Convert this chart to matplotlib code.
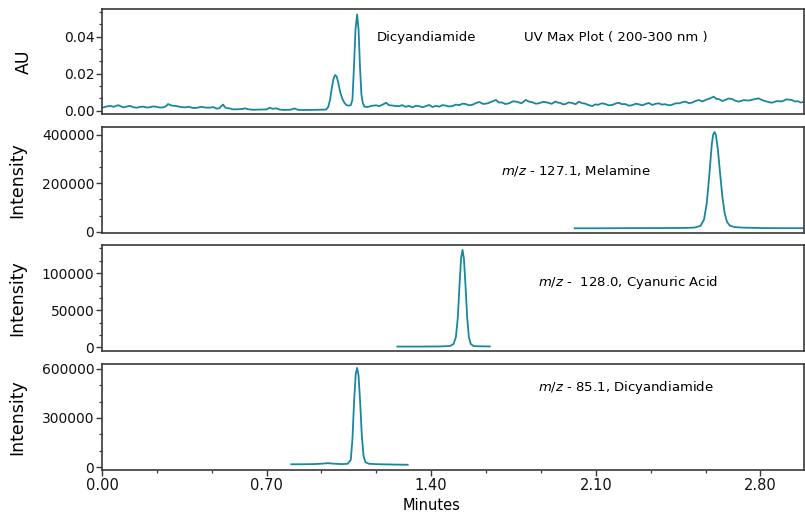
#!/usr/bin/env python3

import numpy as np
import matplotlib
matplotlib.use( 'Agg' )
import matplotlib.pyplot as plt
from matplotlib.ticker import AutoMinorLocator, FormatStrFormatter

plt.rcParams.update( { 'font.family' : 'DejaVu Sans',
                       'mathtext.fontset' : 'dejavusans' } )

teal = '#19879e'
edge = '#3a3a3a'

# UV max plot (200-300 nm), AU vs minutes
uv_t = [ 0.000, 0.017, 0.034, 0.050, 0.069, 0.080, 0.090, 0.105, 0.119, 0.133,
         0.147, 0.160, 0.175, 0.190, 0.204, 0.218, 0.232, 0.246, 0.260, 0.272,
         0.281, 0.295, 0.317, 0.335, 0.352, 0.370, 0.388, 0.405, 0.423, 0.440,
         0.458, 0.472, 0.487, 0.500, 0.508, 0.515, 0.522, 0.529, 0.545, 0.557,
         0.580, 0.600, 0.607, 0.620, 0.642, 0.670, 0.700, 0.713, 0.725, 0.741,
         0.755, 0.769, 0.800, 0.819, 0.830, 0.840, 0.880, 0.920, 0.953, 0.962,
         0.970, 0.977, 0.984, 0.991, 0.998, 1.005, 1.013, 1.022, 1.031, 1.040,
         1.050, 1.058, 1.065, 1.072, 1.078, 1.085, 1.091, 1.097, 1.103, 1.109,
         1.116, 1.130, 1.145, 1.165, 1.180, 1.195, 1.208, 1.220, 1.235, 1.250,
         1.264, 1.277, 1.290, 1.305, 1.321, 1.335, 1.350, 1.364, 1.378, 1.392,
         1.405, 1.420, 1.434, 1.447, 1.460, 1.475, 1.490, 1.505, 1.520, 1.533,
         1.547, 1.561, 1.575, 1.590, 1.604, 1.622, 1.640, 1.657, 1.675, 1.688,
         1.700, 1.715, 1.731, 1.748, 1.765, 1.784, 1.802, 1.816, 1.830, 1.844,
         1.858, 1.876, 1.895, 1.912, 1.929, 1.940, 1.950, 1.960, 1.971, 1.985,
         2.000, 2.014, 2.028, 2.041, 2.055, 2.070, 2.085, 2.097, 2.110, 2.125,
         2.141, 2.155, 2.170, 2.184, 2.198, 2.211, 2.225, 2.240, 2.255, 2.270,
         2.285, 2.298, 2.311, 2.325, 2.340, 2.354, 2.368, 2.381, 2.395, 2.410,
         2.424, 2.440, 2.455, 2.468, 2.481, 2.495, 2.510, 2.523, 2.537, 2.553,
         2.570, 2.585, 2.601, 2.613, 2.625, 2.638, 2.650, 2.665, 2.680, 2.693,
         2.707, 2.728, 2.750, 2.771, 2.792, 2.806, 2.820, 2.834, 2.848, 2.869,
         2.890, 2.911, 2.933, 2.947, 2.960, 2.972, 2.985 ]
uv_au = [ 0.0016, 0.0022, 0.0026, 0.0021, 0.0030, 0.0024, 0.0018, 0.0022, 0.0026, 0.0019,
          0.0016, 0.0020, 0.0022, 0.0017, 0.0019, 0.0023, 0.0021, 0.0017, 0.0018, 0.0024,
          0.0036, 0.0028, 0.0025, 0.0020, 0.0018, 0.0021, 0.0014, 0.0016, 0.0021, 0.0017,
          0.0016, 0.0020, 0.0011, 0.0014, 0.0026, 0.0033, 0.0020, 0.0014, 0.0012, 0.0007,
          0.0008, 0.0010, 0.0013, 0.0008, 0.0005, 0.0006, 0.0007, 0.0016, 0.0010, 0.0013,
          0.0006, 0.0004, 0.0005, 0.0012, 0.0006, 0.0004, 0.0004, 0.0005, 0.0006, 0.0020,
          0.0060, 0.0120, 0.0170, 0.0193, 0.0185, 0.0150, 0.0100, 0.0065, 0.0042, 0.0030,
          0.0027, 0.0030, 0.0060, 0.0250, 0.0440, 0.0521, 0.0440, 0.0240, 0.0090, 0.0042,
          0.0022, 0.0020, 0.0026, 0.0029, 0.0025, 0.0034, 0.0043, 0.0030, 0.0028, 0.0025,
          0.0025, 0.0030, 0.0021, 0.0026, 0.0018, 0.0027, 0.0024, 0.0019, 0.0025, 0.0031,
          0.0020, 0.0026, 0.0022, 0.0030, 0.0028, 0.0023, 0.0025, 0.0033, 0.0030, 0.0038,
          0.0036, 0.0029, 0.0032, 0.0041, 0.0047, 0.0036, 0.0040, 0.0049, 0.0058, 0.0044,
          0.0045, 0.0036, 0.0040, 0.0051, 0.0048, 0.0040, 0.0058, 0.0049, 0.0046, 0.0038,
          0.0040, 0.0048, 0.0044, 0.0037, 0.0050, 0.0043, 0.0042, 0.0034, 0.0036, 0.0045,
          0.0041, 0.0035, 0.0049, 0.0041, 0.0038, 0.0030, 0.0025, 0.0034, 0.0032, 0.0040,
          0.0036, 0.0029, 0.0031, 0.0039, 0.0043, 0.0035, 0.0036, 0.0027, 0.0030, 0.0038,
          0.0034, 0.0029, 0.0036, 0.0042, 0.0031, 0.0037, 0.0040, 0.0033, 0.0035, 0.0029,
          0.0032, 0.0040, 0.0040, 0.0046, 0.0049, 0.0041, 0.0044, 0.0052, 0.0058, 0.0050,
          0.0060, 0.0066, 0.0076, 0.0064, 0.0062, 0.0052, 0.0058, 0.0066, 0.0063, 0.0054,
          0.0049, 0.0057, 0.0055, 0.0061, 0.0067, 0.0058, 0.0052, 0.0047, 0.0043, 0.0052,
          0.0050, 0.0061, 0.0058, 0.0050, 0.0051, 0.0044, 0.0049 ]

# m/z 127.1, melamine
mel_t = [ 2.010, 2.100, 2.200, 2.300, 2.400, 2.480, 2.520, 2.545, 2.560, 2.572,
          2.583, 2.593, 2.599, 2.605, 2.611, 2.619, 2.628, 2.638, 2.648, 2.658,
          2.670, 2.690, 2.720, 2.800, 2.900, 2.985 ]
mel_i = [ 14000, 14000, 14500, 15000, 15000, 15500, 17000, 24000, 50000, 120000,
          240000, 360000, 402000, 412000, 398000, 340000, 245000, 145000, 75000, 40000,
          25000, 19000, 17000, 15000, 14500, 14500 ]

# m/z 128.0, cyanuric acid
cya_t = [ 1.256, 1.350, 1.440, 1.480, 1.495, 1.505, 1.513, 1.520, 1.527, 1.533,
          1.539, 1.546, 1.553, 1.560, 1.568, 1.580, 1.600, 1.649 ]
cya_i = [ 1000, 1000, 1200, 1800, 4500, 14000, 40000, 82000, 120000, 131500,
          120000, 82000, 40000, 14000, 4500, 1800, 1400, 1200 ]

# m/z 85.1, dicyandiamide
dcy_t = [ 0.805, 0.850, 0.900, 0.940, 0.960, 0.980, 1.020, 1.045, 1.058, 1.065,
          1.072, 1.079, 1.085, 1.091, 1.098, 1.105, 1.112, 1.120, 1.135, 1.180,
          1.250, 1.300 ]
dcy_i = [ 17000, 17000, 18000, 21000, 24000, 21000, 18000, 20000, 45000, 170000,
          400000, 570000, 606000, 560000, 390000, 190000, 70000, 30000, 20000, 17000,
          15000, 14000 ]

fig = plt.figure( figsize = ( 8.05, 5.15 ), dpi = 100 )

left, width = 0.1267, 0.872
rects = [ [ left, 0.7786, width, 0.2039 ],
          [ left, 0.5476, width, 0.2058 ],
          [ left, 0.3184, width, 0.2058 ],
          [ left, 0.0874, width, 0.2058 ] ]

panels = [ ( uv_t, uv_au, 'AU', ( -0.0018, 0.055 ), [ 0.0, 0.02, 0.04 ], '%.2f', -0.098 ),
           ( mel_t, mel_i, 'Intensity', ( -5400, 433000 ), [ 0, 200000, 400000 ], '%d', -0.108 ),
           ( cya_t, cya_i, 'Intensity', ( -5000, 138000 ), [ 0, 50000, 100000 ], '%d', -0.108 ),
           ( dcy_t, dcy_i, 'Intensity', ( -18000, 630000 ), [ 0, 300000, 600000 ], '%d', -0.108 ) ]

axes = []
for k, ( t, y, lab, yl, yt, fmt, lx ) in enumerate( panels ):
    ax = fig.add_axes( rects[k] )
    ax.plot( t, y, color = teal, lw = 1.3 )
    ax.set_xlim( 0.0, 2.985 )
    ax.set_ylim( *yl )
    ax.set_yticks( yt )
    ax.yaxis.set_major_formatter( FormatStrFormatter( fmt ) )
    ax.yaxis.set_minor_locator( AutoMinorLocator( 3 ) )
    ax.set_ylabel( lab, fontsize = 12.5 )
    ax.yaxis.set_label_coords( lx, 0.5 )
    for s in ax.spines.values():
        s.set_color( edge )
        s.set_linewidth( 1.2 )
    ax.tick_params( axis = 'y', which = 'major', length = 4, width = 1.0,
                    color = edge, labelsize = 10, pad = 1.5, labelcolor = '#111111' )
    ax.tick_params( axis = 'y', which = 'minor', length = 2.2, width = 0.9, color = edge )
    axes.append( ax )

for ax in axes[:-1]:
    ax.tick_params( axis = 'x', which = 'both', bottom = False, labelbottom = False )

ax = axes[-1]
ax.set_xticks( [ 0.0, 0.7, 1.4, 2.1, 2.8 ] )
ax.xaxis.set_major_formatter( FormatStrFormatter( '%.2f' ) )
ax.xaxis.set_minor_locator( AutoMinorLocator( 3 ) )
ax.tick_params( axis = 'x', which = 'major', length = 4, width = 1.0,
                color = edge, labelsize = 10.5, pad = 2, labelcolor = '#111111' )
ax.tick_params( axis = 'x', which = 'minor', length = 2.5, width = 0.9, color = edge )
ax.set_xlabel( 'Minutes', fontsize = 10.5, labelpad = 0 )
ax.xaxis.set_label_coords( 0.469, -0.268 )

fs = 9.5
axes[0].text( 0.392, 0.733, 'Dicyandiamide', transform = axes[0].transAxes,
              fontsize = fs, va = 'center' )
axes[0].text( 0.601, 0.733, 'UV Max Plot ( 200-300 nm )', transform = axes[0].transAxes,
              fontsize = fs, va = 'center' )
axes[1].text( 0.569, 0.585, r'$\it{m/z}$ - 127.1, Melamine', transform = axes[1].transAxes,
              fontsize = fs, va = 'center' )
axes[2].text( 0.621, 0.642, r'$\it{m/z}$ -  128.0, Cyanuric Acid', transform = axes[2].transAxes,
              fontsize = fs, va = 'center' )
axes[3].text( 0.621, 0.774, r'$\it{m/z}$ - 85.1, Dicyandiamide', transform = axes[3].transAxes,
              fontsize = fs, va = 'center' )

plt.savefig( 'out.png', dpi = 100 )
